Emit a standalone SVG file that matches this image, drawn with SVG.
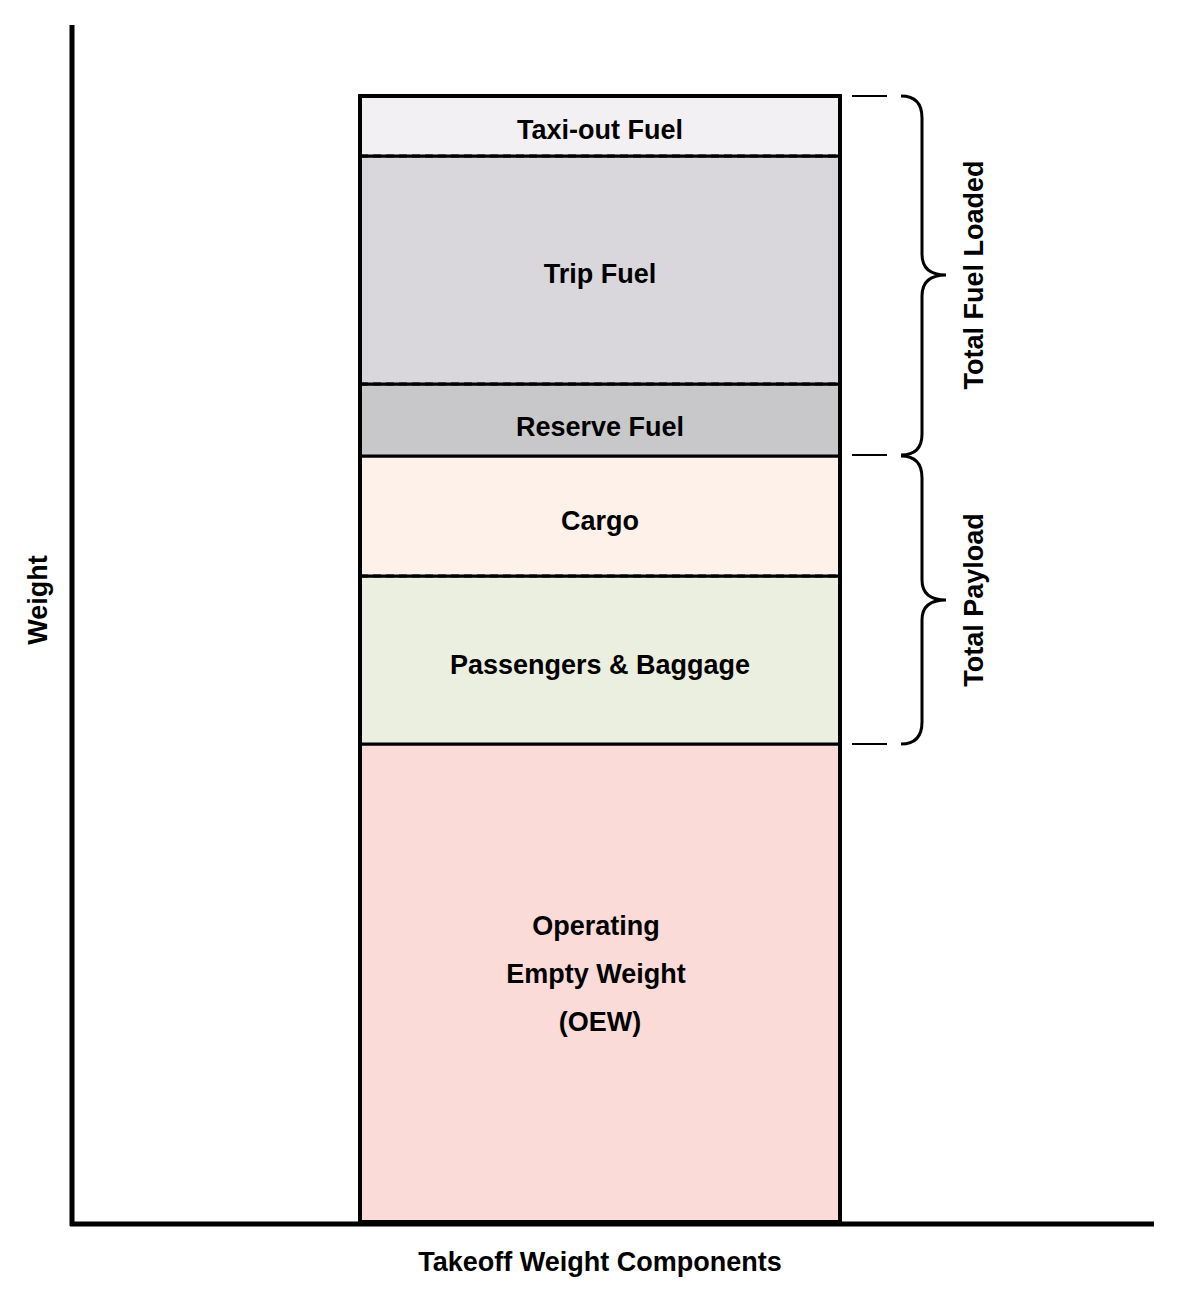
<svg xmlns="http://www.w3.org/2000/svg" width="1200" height="1296" viewBox="0 0 1200 1296">
<style>
text{font-family:"Liberation Sans",Arial,sans-serif;font-weight:bold;fill:#000;text-anchor:middle}
.seg{stroke:#000;stroke-width:3}
.dash{stroke:#000;stroke-width:3;stroke-dasharray:8 5;fill:none}
.brace{fill:none;stroke:#000;stroke-width:3}
.tick{stroke:#000;stroke-width:2}
</style>
<rect width="1200" height="1296" fill="#fff"/>
<g id="axes" stroke="#000" stroke-width="5">
<line x1="72" y1="25" x2="72" y2="1226"/>
<line x1="70" y1="1224" x2="1154" y2="1224"/>
</g>
<g id="oew"><rect x="360" y="744" width="480" height="478" fill="#fadbd8" class="seg"/>
<text x="596" y="935" font-size="27">Operating</text><text x="596" y="983" font-size="27">Empty Weight</text><text x="600" y="1031" font-size="27">(OEW)</text></g>
<g id="pax"><rect x="360" y="576" width="480" height="168" fill="#ebefdf" class="seg"/>
<text x="600" y="674" font-size="27">Passengers &amp; Baggage</text></g>
<g id="cargo"><rect x="360" y="456" width="480" height="120" fill="#fef1e9" class="seg"/>
<text x="600" y="530" font-size="27">Cargo</text></g>
<g id="reserve"><rect x="360" y="384" width="480" height="72" fill="#c8c7ca" class="seg"/>
<text x="600" y="436" font-size="27">Reserve Fuel</text></g>
<g id="trip"><rect x="360" y="156" width="480" height="228" fill="#d9d7db" class="seg"/>
<text x="600" y="283" font-size="27">Trip Fuel</text></g>
<g id="taxi"><rect x="360" y="96" width="480" height="60" fill="#f2f0f3" class="seg"/>
<text x="600" y="139" font-size="27">Taxi-out Fuel</text></g>
<g id="connectors">
<line x1="360" y1="156" x2="840" y2="156" class="dash"/>
<line x1="360" y1="384" x2="840" y2="384" class="dash"/>
<line x1="360" y1="576" x2="840" y2="576" class="dash"/>
<rect x="360" y="96" width="480" height="1126" fill="none" stroke="#000" stroke-width="4"/>
<line x1="852" y1="96" x2="887" y2="96" class="tick"/>
<line x1="852" y1="455" x2="887" y2="455" class="tick"/>
<line x1="852" y1="744" x2="887" y2="744" class="tick"/>
<path class="brace" d="M901 96 Q922 96 922 118 V254 Q922 275 946 275 Q922 275 922 296 V434 Q922 455 901 455"/>
<path class="brace" d="M901 456 Q922 456 922 478 V580 Q922 600 946 600 Q922 600 922 620 V722 Q922 744 901 744"/>
</g>
<g id="labels">
<text x="983" y="275" font-size="27" transform="rotate(-90 983 275)" dy="0">Total Fuel Loaded</text>
<text x="983" y="600" font-size="27" transform="rotate(-90 983 600)">Total Payload</text>
<text x="47" y="600" font-size="27" transform="rotate(-90 47 600)">Weight</text>
<text x="600" y="1271" font-size="27">Takeoff Weight Components</text>
</g>
</svg>
